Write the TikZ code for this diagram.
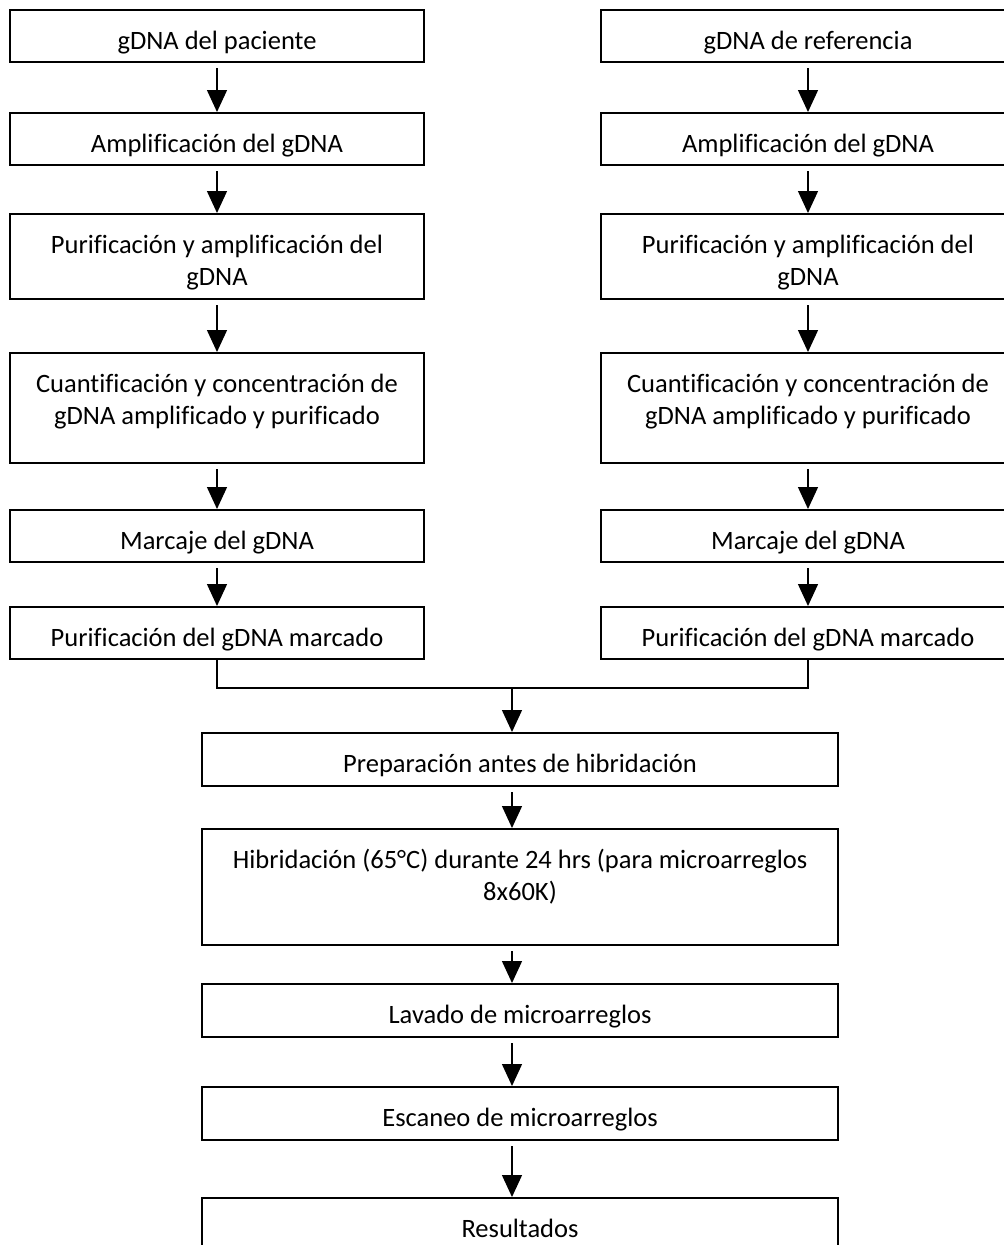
\documentclass[tikz,border=0pt]{standalone}
\usepackage{fontspec}
\setmainfont{Carlito}[Ligatures=NoCommon]
\usetikzlibrary{arrows.meta,calc}
\newcommand\tops{\rule{0pt}{39pt}}
\newcommand\bots[1]{\rule[-#1]{0pt}{#1}}
\tikzset{
  box/.style={draw=black, line width=2pt, inner sep=0pt, align=center,
    anchor=north, minimum width=414pt,
    font=\fontsize{26.5pt}{32pt}\selectfont},
  cbox/.style={box, minimum width=636pt},
  arr/.style={line width=1.4pt, -{Triangle[length=22pt,width=20pt]}},
  gap/.style={shorten <=5pt},
  conn/.style={line width=1.4pt}
}
\begin{document}
\begin{tikzpicture}[x=1pt,y=-1pt]
\useasboundingbox (0,0) rectangle (1004,1245);
\clip (0,0) rectangle (1004,1245);
% left column
\node[box] (l1) at (217,9)   {\tops\bots{13pt}gDNA del paciente};
\node[box] (l2) at (217,112) {\tops\bots{13pt}Amplificación del gDNA};
\node[box] (l3) at (217,213) {\tops Purificación y amplificación del\\gDNA\bots{14pt}};
\node[box] (l4) at (217,352) {\tops Cuantificación y concentración de\\gDNA amplificado y purificado\bots{39pt}};
\node[box] (l5) at (217,509) {\tops\bots{13pt}Marcaje del gDNA};
\node[box] (l6) at (217,606) {\tops\bots{13pt}Purificación del gDNA marcado};
% right column
\node[box] (r1) at (808,9)   {\tops\bots{13pt}gDNA de referencia};
\node[box] (r2) at (808,112) {\tops\bots{13pt}Amplificación del gDNA};
\node[box] (r3) at (808,213) {\tops Purificación y amplificación del\\gDNA\bots{14pt}};
\node[box] (r4) at (808,352) {\tops Cuantificación y concentración de\\gDNA amplificado y purificado\bots{39pt}};
\node[box] (r5) at (808,509) {\tops\bots{13pt}Marcaje del gDNA};
\node[box] (r6) at (808,606) {\tops\bots{13pt}Purificación del gDNA marcado};
% centre column
\node[cbox] (c1) at (520,732)  {\tops\bots{14pt}Preparación antes de hibridación};
\node[cbox] (c2) at (520,828)  {\tops Hibridación (65°C) durante 24 hrs (para microarreglos\\8x60K)\bots{45pt}};
\node[cbox] (c3) at (520,983)  {\tops\bots{14pt}Lavado de microarreglos};
\node[cbox] (c4) at (520,1086) {\tops\bots{14pt}Escaneo de microarreglos};
\node[cbox] (c5) at (520,1197) {\tops\bots{26pt}Resultados};
\coordinate (m) at (512,688);
% arrows
\foreach \a/\b in {l1/l2,l2/l3,l3/l4,l4/l5,l5/l6,r1/r2,r2/r3,r3/r4,r4/r5,r5/r6}
  \draw[arr,gap] (\a.south) -- (\b.north);
\draw[conn] (l6.south) |- (m) -| (r6.south);
\draw[arr] (m) -- (c1.north -| m);
\foreach \a/\b in {c1/c2,c2/c3,c3/c4,c4/c5}
  \draw[arr,gap] (\a.south -| m) -- (\b.north -| m);
\end{tikzpicture}
\end{document}
